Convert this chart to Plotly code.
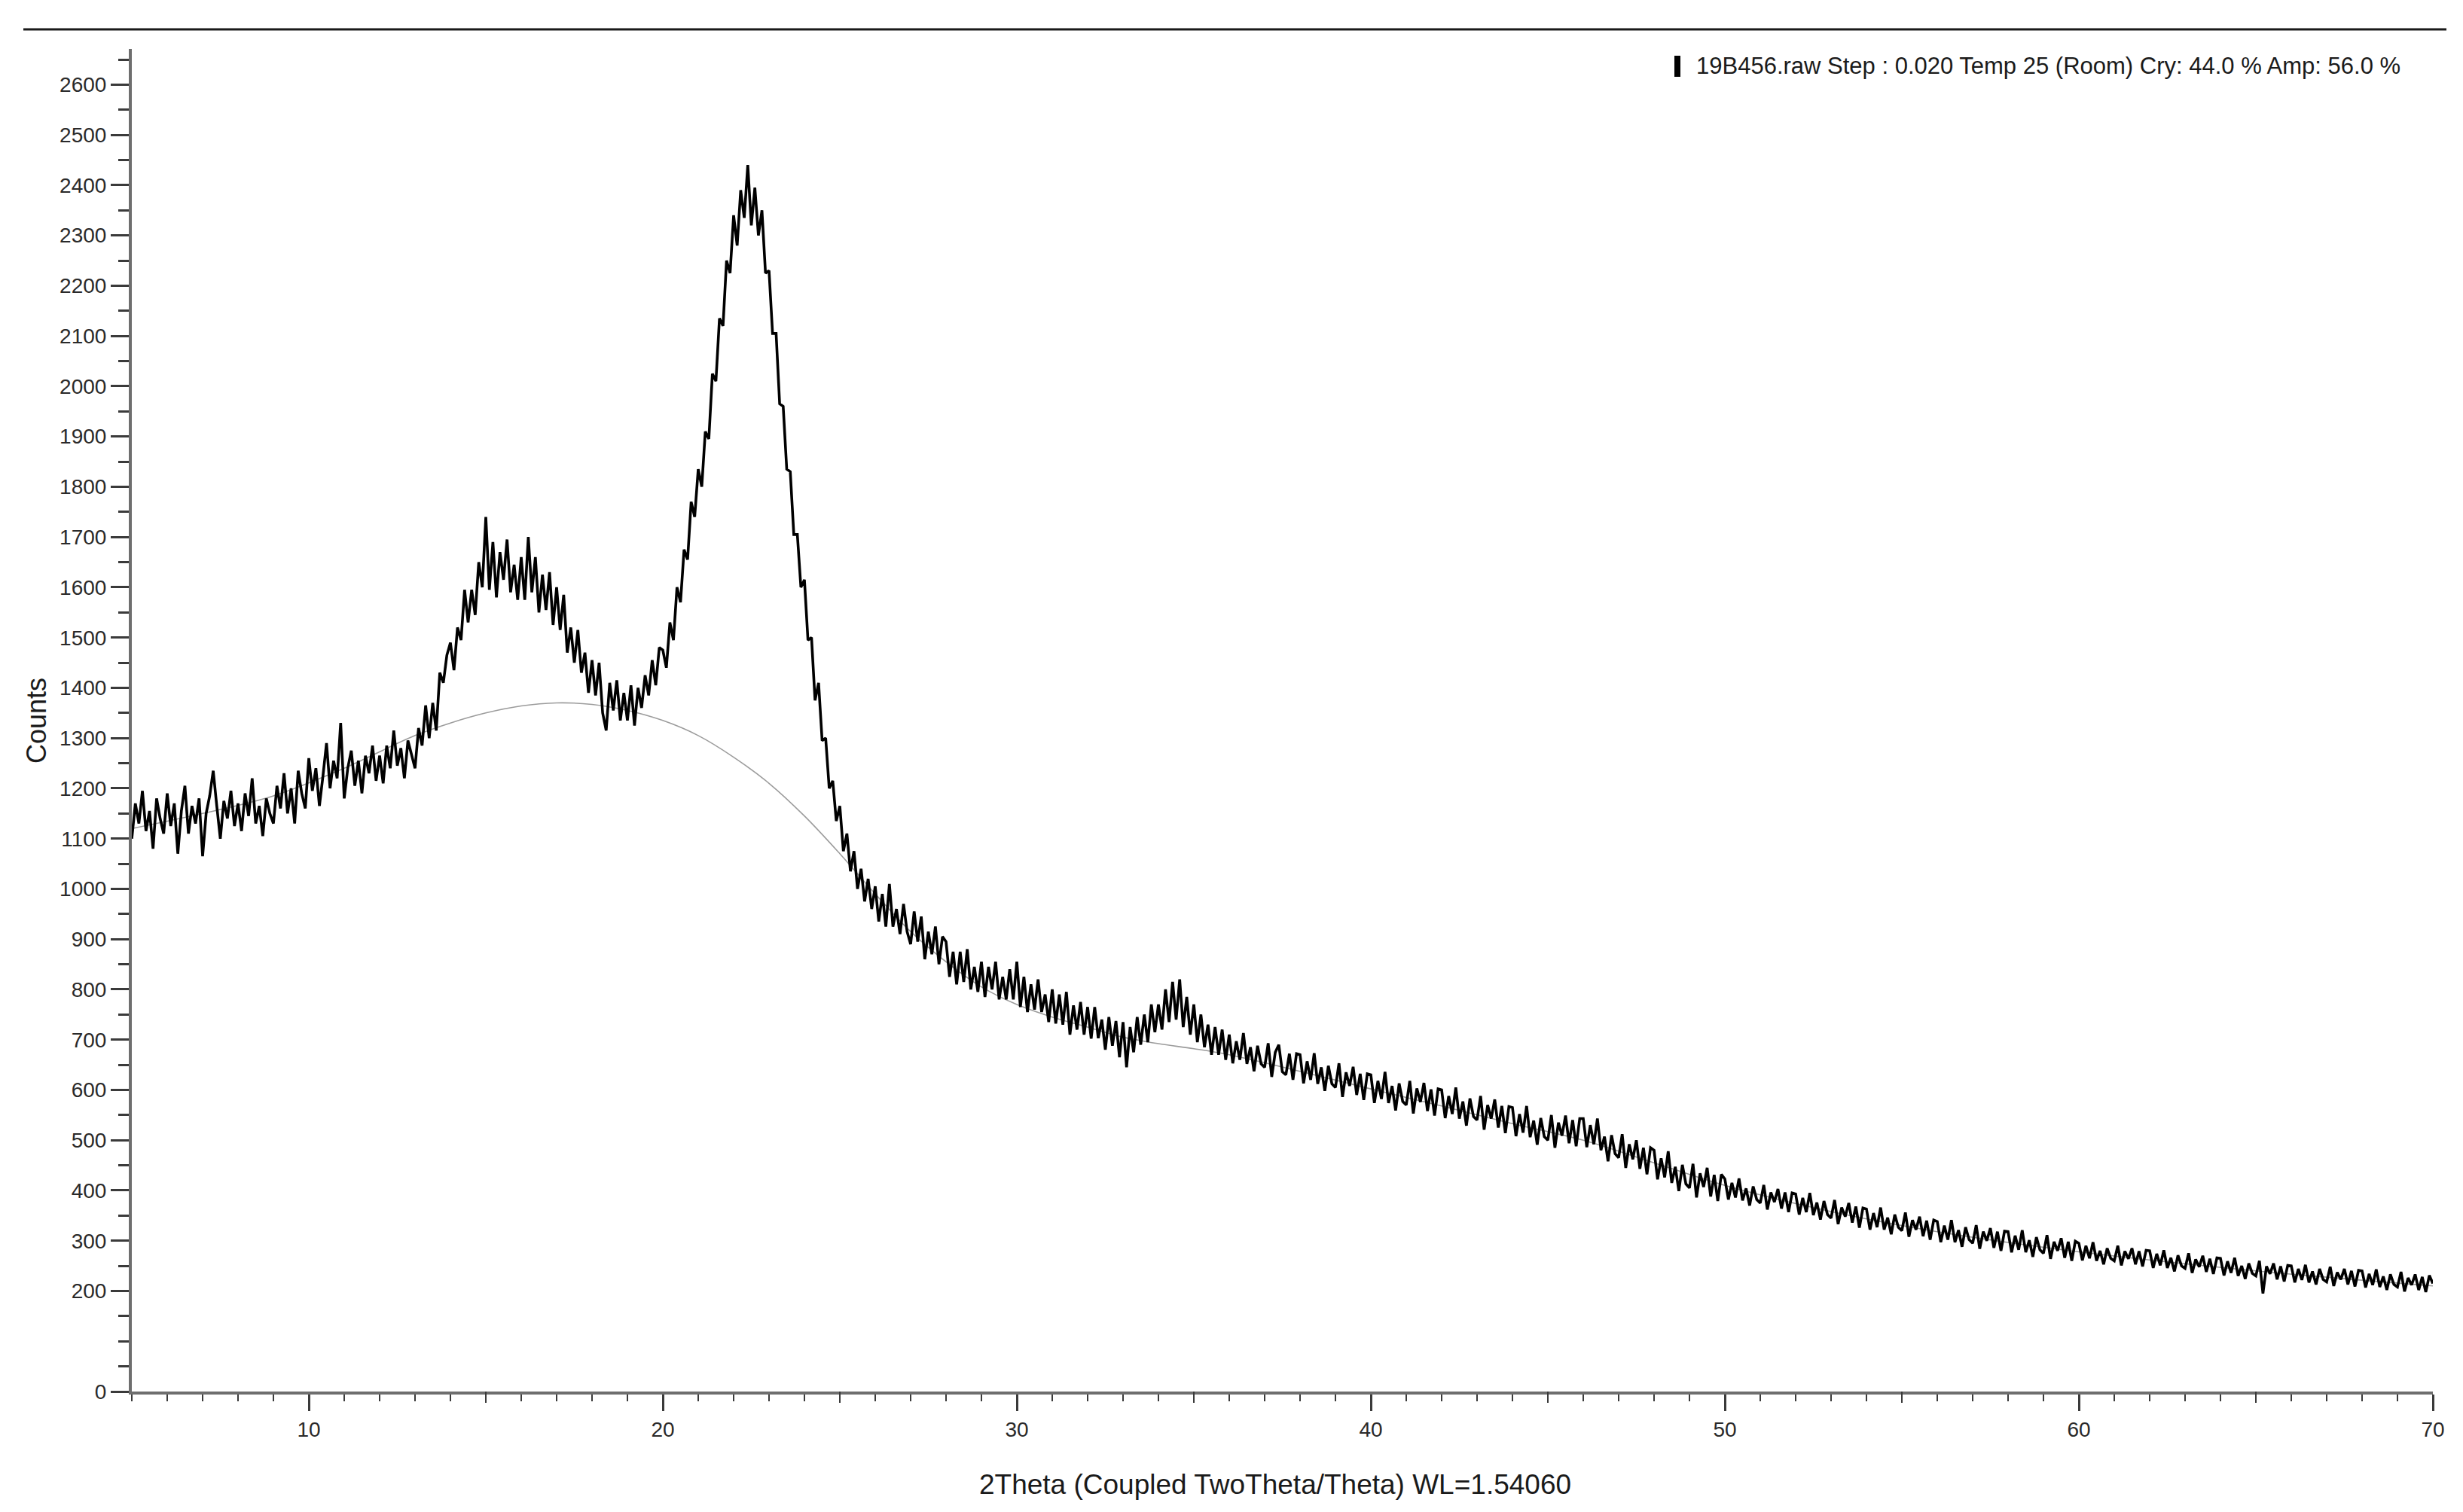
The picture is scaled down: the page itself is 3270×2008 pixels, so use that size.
import numpy as np
import plotly.graph_objects as go

# ---------------- data ----------------
STEP = 0.1          # sampling used for the hand-read trace (degrees 2theta)
START = 5.0

# Counts, 5.0 - 12.9 deg
counts_05_13 = [1100, 1170, 1130, 1195, 1115, 1155, 1080, 1180, 1140, 1110,
                1190, 1125, 1170, 1070, 1155, 1205, 1110, 1165, 1130, 1180,
                1065, 1150, 1185, 1235, 1165, 1100, 1175, 1140, 1195, 1125,
                1170, 1115, 1190, 1145, 1220, 1130, 1165, 1105, 1180, 1150,
                1130, 1205, 1160, 1230, 1150, 1200, 1130, 1235, 1190, 1160,
                1260, 1195, 1240, 1165, 1225, 1290, 1200, 1255, 1220, 1330,
                1180, 1240, 1275, 1205, 1255, 1190, 1265, 1230, 1285, 1215,
                1265, 1210, 1285, 1240, 1315, 1245, 1280, 1220, 1295, 1265]
# Counts, 13.0 - 19.9 deg
counts_13_20 = [1240, 1320, 1285, 1365, 1300, 1370, 1315, 1430, 1410, 1465,
                1490, 1435, 1520, 1495, 1595, 1530, 1595, 1545, 1650, 1600,
                1740, 1595, 1690, 1580, 1670, 1615, 1695, 1590, 1645, 1575,
                1660, 1575, 1700, 1590, 1660, 1550, 1625, 1555, 1630, 1525,
                1600, 1515, 1585, 1470, 1520, 1450, 1515, 1430, 1470, 1390,
                1455, 1385, 1450, 1350, 1315, 1410, 1355, 1415, 1335, 1390,
                1335, 1405, 1325, 1400, 1360, 1425, 1385, 1455, 1405, 1480]
# Counts, 20.0 - 25.9 deg
counts_20_26 = [1475, 1440, 1530, 1495, 1600, 1570, 1675, 1655, 1770, 1740,
                1835, 1800, 1910, 1895, 2025, 2010, 2135, 2120, 2250, 2225,
                2340, 2280, 2390, 2335, 2440, 2320, 2395, 2300, 2350, 2225,
                2230, 2105, 2105, 1965, 1960, 1835, 1830, 1705, 1705, 1600,
                1615, 1495, 1500, 1375, 1410, 1295, 1300, 1200, 1215, 1135,
                1165, 1075, 1110, 1035, 1075, 1000, 1040, 975, 1020, 960]
# Counts, 26.0 - 35.9 deg
counts_26_36 = [1005, 935, 990, 925, 1010, 925, 960, 910, 970, 915,
                890, 955, 895, 945, 860, 915, 870, 925, 850, 905,
                895, 825, 875, 810, 875, 815, 880, 800, 845, 795,
                855, 785, 845, 800, 855, 780, 825, 780, 840, 780,
                855, 765, 825, 755, 810, 760, 820, 755, 790, 735,
                800, 732, 790, 730, 795, 710, 768, 720, 775, 710,
                765, 702, 765, 703, 740, 680, 745, 688, 737, 665,
                735, 645, 725, 675, 745, 690, 750, 695, 770, 715,
                770, 720, 800, 735, 815, 740, 820, 725, 785, 710,
                770, 695, 750, 685, 730, 670, 725, 670, 720, 660]
# Counts, 36.0 - 49.9 deg
counts_36_50 = [710, 653, 697, 660, 713, 652, 685, 637, 688, 652,
                645, 693, 626, 675, 690, 636, 630, 672, 620, 672,
                670, 613, 657, 620, 673, 612, 645, 598, 648, 612,
                605, 653, 586, 635, 608, 646, 590, 632, 580, 632,
                630, 574, 618, 582, 636, 574, 608, 559, 613, 577,
                570, 618, 553, 603, 576, 614, 558, 601, 549, 602,
                600, 544, 588, 552, 605, 543, 577, 529, 583, 547,
                540, 588, 521, 570, 543, 581, 525, 568, 514, 567,
                565, 508, 552, 515, 568, 506, 539, 491, 544, 507,
                500, 550, 485, 535, 509, 549, 494, 540, 488, 543,
                543, 486, 530, 492, 543, 480, 507, 458, 510, 473,
                465, 512, 445, 492, 462, 500, 443, 485, 432, 485,
                480, 422, 464, 426, 478, 415, 447, 399, 451, 413,
                405, 453, 386, 434, 407, 445, 388, 431, 379, 432]
# Counts, 50.0 - 70.0 deg
counts_50_70 = [423, 382, 415, 386, 424, 380, 404, 370, 408, 382,
                375, 411, 362, 396, 377, 403, 364, 396, 357, 395,
                393, 352, 385, 357, 395, 351, 376, 342, 379, 352,
                345, 381, 333, 366, 348, 375, 336, 368, 326, 365,
                363, 322, 355, 327, 366, 322, 346, 313, 352, 327,
                320, 356, 308, 341, 322, 348, 309, 340, 302, 341,
                338, 297, 330, 302, 341, 297, 321, 288, 327, 302,
                295, 331, 284, 318, 300, 325, 286, 318, 280, 319,
                318, 277, 310, 282, 321, 277, 301, 268, 307, 282,
                275, 311, 264, 298, 280, 305, 266, 298, 260, 299,
                295, 261, 290, 265, 297, 260, 280, 253, 285, 265,
                260, 290, 251, 279, 264, 285, 253, 279, 249, 281,
                280, 246, 274, 251, 281, 246, 266, 239, 271, 250,
                245, 275, 236, 263, 248, 270, 238, 264, 234, 266,
                265, 231, 259, 236, 266, 230, 250, 224, 255, 235,
                230, 260, 195, 249, 234, 255, 223, 249, 219, 251,
                250, 217, 244, 222, 252, 217, 239, 213, 244, 223,
                218, 248, 210, 237, 223, 244, 213, 240, 209, 241,
                240, 207, 234, 212, 243, 208, 229, 202, 233, 213,
                208, 238, 199, 226, 212, 233, 202, 228, 198, 231,
                215]

# Fitted amorphous background (thin grey curve)
amorph_2theta = [5, 7, 9, 11, 13, 14, 15, 16, 17, 18, 19, 20, 21, 22, 23, 24, 25,
                 26, 27, 28, 29, 30, 31, 32, 33, 34, 35, 36, 38, 40, 42, 44, 46,
                 48, 50, 53, 56, 60, 65, 70]
amorph_counts = [1120, 1150, 1185, 1240, 1305, 1330, 1350, 1364, 1370, 1367, 1355,
                 1335, 1305, 1262, 1210, 1145, 1070, 990, 915, 855, 805, 770, 745,
                 725, 705, 692, 682, 670, 637, 602, 568, 533, 500, 455, 410, 358,
                 318, 278, 240, 210]

x_major_ticks = [10, 20, 30, 40, 50, 60, 70]
x_mid_ticks = [15, 25, 35, 45, 55, 65]
y_tick_values = [0] + list(range(200, 2601, 100))

legend_text = "19B456.raw Step : 0.020 Temp 25 (Room) Cry: 44.0 % Amp: 56.0 %"
x_title = "2Theta (Coupled TwoTheta/Theta) WL=1.54060"
y_title = "Counts"

# ---------------- assemble ----------------
counts = (counts_05_13 + counts_13_20 + counts_20_26 +
          counts_26_36 + counts_36_50 + counts_50_70)
two_theta = np.round(START + STEP * np.arange(len(counts)), 2)

W, H = 3270, 2008
L, R, T, B = 167, 48, 57, 168
PW, PH = W - L - R, H - T - B


def px(x):
    return (x - L) / PW


def py(y):
    return (H - B - y) / PH


FONT = "Liberation Sans, Arial, sans-serif"
AXC = "#6e6e6e"
TKC = "#3a3a3a"

fig = go.Figure()
fig.add_trace(go.Scatter(x=amorph_2theta, y=amorph_counts, mode="lines",
                         line=dict(color="#9c9c9c", width=1.6, shape="spline"),
                         hoverinfo="skip", showlegend=False))
fig.add_trace(go.Scatter(x=two_theta, y=counts, mode="lines",
                         line=dict(color="#000000", width=3.6),
                         showlegend=False))

shapes = [
    dict(type="line", xref="paper", yref="paper", x0=px(23), x1=px(3240),
         y0=py(31), y1=py(31), line=dict(color="#1a1a1a", width=3)),
    dict(type="rect", xref="paper", yref="paper", x0=px(2215), x1=px(2223),
         y0=py(94), y1=py(66), line=dict(width=0), fillcolor="#000000"),
]
for v in x_mid_ticks:
    shapes.append(dict(type="line", xref="x", yref="paper", x0=v, x1=v,
                       y0=0, y1=-15 / PH, line=dict(color=TKC, width=2)))

annotations = [
    dict(text=legend_text, xref="paper", yref="paper", x=px(2242), y=py(80),
         xanchor="left", yanchor="middle", showarrow=False,
         font=dict(family=FONT, size=31, color="#1a1a1a")),
    dict(text=x_title, xref="paper", yref="paper", x=0.497, y=py(1964),
         xanchor="center", yanchor="middle", showarrow=False,
         font=dict(family=FONT, size=37, color="#1a1a1a")),
    dict(text=y_title, xref="paper", yref="paper", x=px(40), y=py(949),
         xanchor="center", yanchor="middle", showarrow=False, textangle=-90,
         font=dict(family=FONT, size=36, color="#1a1a1a")),
]

fig.update_layout(
    width=W, height=H,
    margin=dict(l=L, r=R, t=T, b=B),
    paper_bgcolor="white", plot_bgcolor="white",
    font=dict(family=FONT, color="#333333"),
    shapes=shapes, annotations=annotations,
    showlegend=False,
)
fig.update_xaxes(
    range=[5, 70], showline=True, linecolor=AXC, linewidth=4,
    showgrid=False, zeroline=False,
    ticks="outside", tickvals=x_major_ticks, ticklen=22, tickwidth=3, tickcolor=TKC,
    tickfont=dict(family=FONT, size=28, color="#2a2a2a"),
    minor=dict(ticks="outside", tick0=5, dtick=1, ticklen=9, tickwidth=2, tickcolor=TKC),
)
fig.update_yaxes(
    range=[0, 2671], showline=True, linecolor=AXC, linewidth=4,
    showgrid=False, zeroline=False,
    ticks="outside", tickvals=y_tick_values, ticklen=24, tickwidth=3, tickcolor=TKC,
    tickfont=dict(family=FONT, size=28, color="#2a2a2a"),
    minor=dict(ticks="outside", tick0=0, dtick=50, ticklen=14, tickwidth=3, tickcolor=TKC),
)

fig.write_html("out.html")
